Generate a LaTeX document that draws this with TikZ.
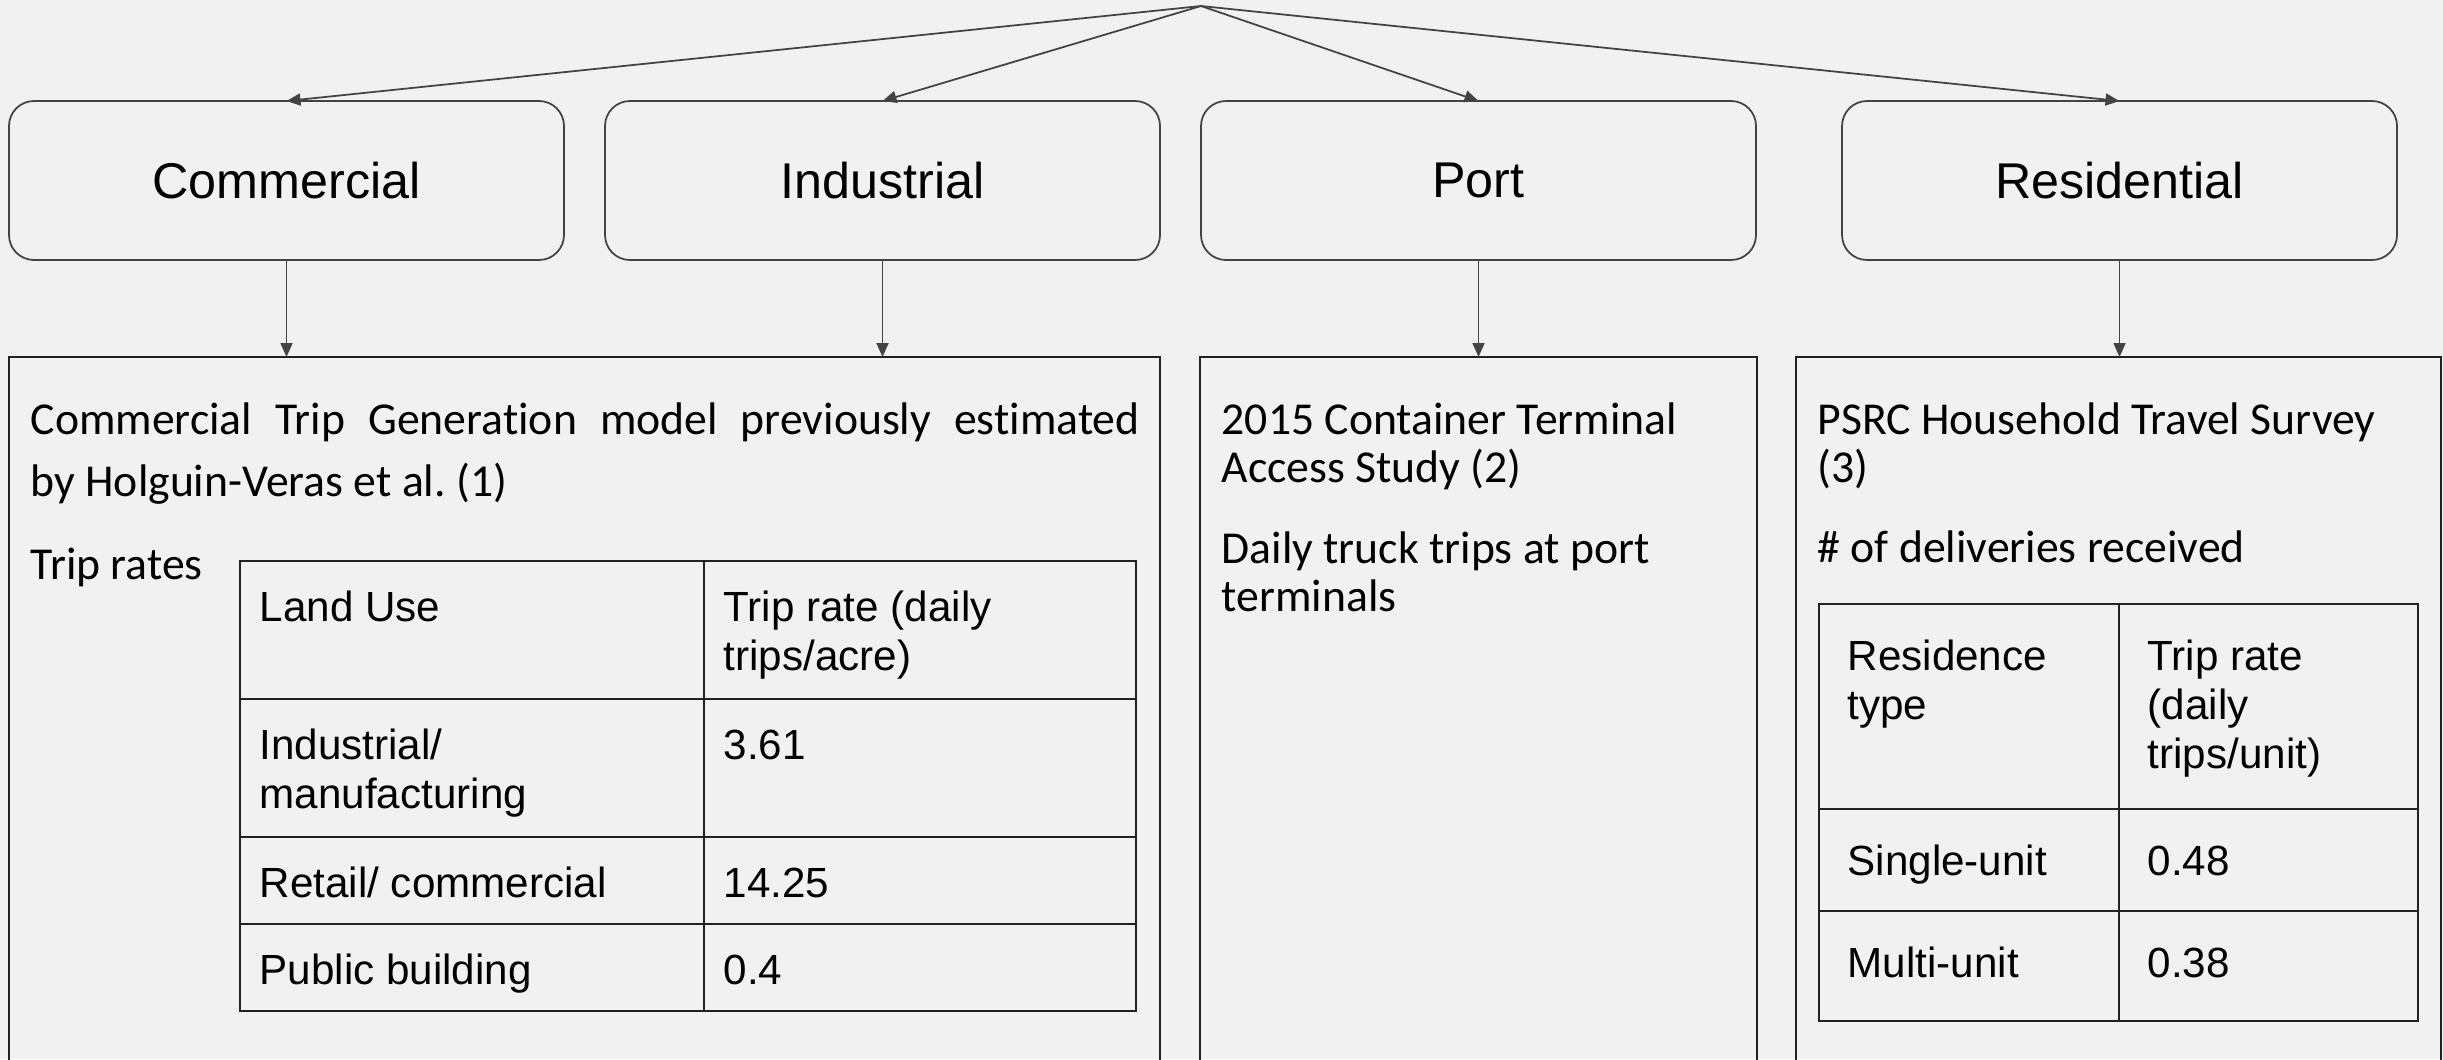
\documentclass[tikz,border=0pt]{standalone}
\usepackage{fontspec}
\setmainfont[Ligatures=NoCommon]{Carlito}
\newfontfamily\arialfont{Liberation Sans}
\usepackage{xcolor}
\usepackage{tikz}
\usetikzlibrary{arrows.meta,positioning,calc}
\frenchspacing

\definecolor{paper}{HTML}{F1F1F1}
\definecolor{linegray}{HTML}{434343}
\definecolor{rule}{HTML}{222222}

\begin{document}
\begin{tikzpicture}[
    catbox/.style={draw=linegray, line width=0.5pt, rounded corners=0.25cm,
      minimum width=5.55cm, minimum height=1.59cm, inner sep=0pt, outer sep=0pt,
      font=\arialfont\fontsize{14.3pt}{17pt}\selectfont},
    srcbox/.style={draw=rule, line width=0.5pt, anchor=north west,
      minimum height=7.4cm, inner sep=0pt, outer sep=0pt},
    flow/.style={draw=linegray, line width=0.5pt,
      -{Triangle[length=0.14cm,width=0.12cm]}},
    body/.style={anchor=base west, inner sep=0pt, text width=6cm, align=flush left,
      font=\fontsize{13pt}{13.9pt}\selectfont},
    cell/.style={draw=rule, line width=0.5pt, anchor=north west,
      inner sep=0pt, outer sep=0pt},
    celltext/.style={anchor=base west, inner sep=0pt, text width=4cm, align=flush left,
      font=\arialfont\fontsize{12pt}{14pt}\selectfont}
  ]

  % Nền trang
  \path[use as bounding box, fill=paper] (0,0) rectangle (24.43,-10.59);
  \clip (0,0) rectangle (24.43,-10.59);

  % Bốn nhóm sử dụng đất
  \coordinate (apex) at (12.01,-0.06);
  \node[catbox] (comm) at (2.865,-1.805) {Commercial};
  \node[catbox, right=0.41cm of comm] (ind) {Industrial};
  \node[catbox, right=0.41cm of ind] (port) {Port};
  \node[catbox, right=0.86cm of port] (res) {Residential};

  % Khung nguồn dữ liệu (bị cắt ở đáy)
  \node[srcbox, minimum width=11.51cm] (trip) at (0.09,-3.57) {};
  \node[srcbox, minimum width=5.57cm] (terminal) at (12.00,-3.57) {};
  \node[srcbox, minimum width=6.45cm] (survey) at (17.96,-3.57) {};

  % Mũi tên
  \foreach \c in {comm,ind,port,res}
    \draw[flow] (apex) -- (\c.north);
  \draw[flow] (comm.south) -- (comm.south |- trip.north);
  \draw[flow] (ind.south) -- (ind.south |- trip.north);
  \draw[flow] (port.south) -- (port.south |- terminal.north);
  \draw[flow] (res.south) -- (res.south |- survey.north);

  % Nội dung trong khung
  \node[body, text width=11.09cm, align=justify,
    font=\fontsize{13pt}{17.9pt}\selectfont] (tripsrc) at (0.30,-4.34)
    {Commercial Trip Generation model previously estimated\linebreak by Holguin-Veras et al. (1)};
  \node[body] (triprates) at (0.30,-5.79) {Trip rates};
  \node[body] (termsrc) at (12.21,-4.34) {2015 Container Terminal\\Access Study (2)};
  \node[body] (termnote) at (12.21,-5.63) {Daily truck trips at port\\terminals};
  \node[body] (surveysrc) at (18.17,-4.34) {PSRC Household Travel Survey\\(3)};
  \node[body] (surveynote) at (18.17,-5.62) {\# of deliveries received};

  % Bảng tỉ lệ chuyến theo sử dụng đất
  \node[cell, minimum width=4.64cm, minimum height=1.38cm] (lu1a) at (2.40,-5.61) {};
  \node[cell, minimum width=4.32cm, minimum height=1.38cm] (lu1b) at (lu1a.north east) {};
  \node[cell, minimum width=4.64cm, minimum height=1.38cm] (lu2a) at (lu1a.south west) {};
  \node[cell, minimum width=4.32cm, minimum height=1.38cm] (lu2b) at (lu2a.north east) {};
  \node[cell, minimum width=4.64cm, minimum height=0.87cm] (lu3a) at (lu2a.south west) {};
  \node[cell, minimum width=4.32cm, minimum height=0.87cm] (lu3b) at (lu3a.north east) {};
  \node[cell, minimum width=4.64cm, minimum height=0.87cm] (lu4a) at (lu3a.south west) {};
  \node[cell, minimum width=4.32cm, minimum height=0.87cm] (lu4b) at (lu4a.north east) {};

  \node[celltext] (lu1at) at ($(lu1a.north west)+(0.19,-0.60)$) {Land Use};
  \node[celltext] (lu1bt) at ($(lu1b.north west)+(0.19,-0.60)$) {Trip rate (daily\\trips/acre)};
  \node[celltext] (lu2at) at ($(lu2a.north west)+(0.19,-0.60)$) {Industrial/\\manufacturing};
  \node[celltext] (lu2bt) at ($(lu2b.north west)+(0.19,-0.60)$) {3.61};
  \node[celltext] (lu3at) at ($(lu3a.north west)+(0.19,-0.60)$) {Retail/ commercial};
  \node[celltext] (lu3bt) at ($(lu3b.north west)+(0.19,-0.60)$) {14.25};
  \node[celltext] (lu4at) at ($(lu4a.north west)+(0.19,-0.60)$) {Public building};
  \node[celltext] (lu4bt) at ($(lu4b.north west)+(0.19,-0.60)$) {0.4};

  % Bảng tỉ lệ chuyến theo loại nhà ở
  \node[cell, minimum width=3.00cm, minimum height=2.05cm] (rt1a) at (18.19,-6.04) {};
  \node[cell, minimum width=2.99cm, minimum height=2.05cm] (rt1b) at (rt1a.north east) {};
  \node[cell, minimum width=3.00cm, minimum height=1.02cm] (rt2a) at (rt1a.south west) {};
  \node[cell, minimum width=2.99cm, minimum height=1.02cm] (rt2b) at (rt2a.north east) {};
  \node[cell, minimum width=3.00cm, minimum height=1.10cm] (rt3a) at (rt2a.south west) {};
  \node[cell, minimum width=2.99cm, minimum height=1.10cm] (rt3b) at (rt3a.north east) {};

  \node[celltext, text width=2.6cm] (rt1at) at ($(rt1a.north west)+(0.28,-0.66)$) {Residence\\type};
  \node[celltext, text width=2.6cm] (rt1bt) at ($(rt1b.north west)+(0.28,-0.66)$) {Trip rate\\(daily\\trips/unit)};
  \node[celltext, text width=2.6cm] (rt2at) at ($(rt2a.north west)+(0.28,-0.66)$) {Single-unit};
  \node[celltext, text width=2.6cm] (rt2bt) at ($(rt2b.north west)+(0.28,-0.66)$) {0.48};
  \node[celltext, text width=2.6cm] (rt3at) at ($(rt3a.north west)+(0.28,-0.66)$) {Multi-unit};
  \node[celltext, text width=2.6cm] (rt3bt) at ($(rt3b.north west)+(0.28,-0.66)$) {0.38};
\end{tikzpicture}
\end{document}
